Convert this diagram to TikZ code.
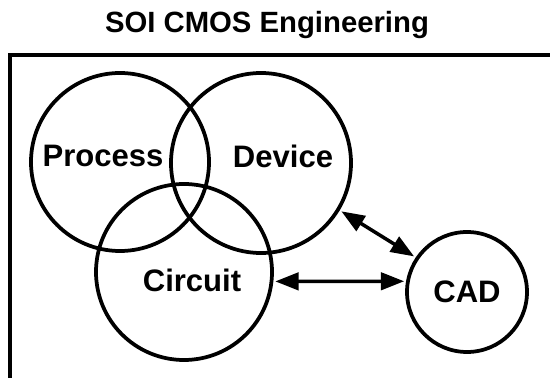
\documentclass[tikz,border=0pt]{standalone}
\usepackage{fontspec}
\setmainfont{Liberation Sans}
\usepackage{tikz}
\usetikzlibrary{arrows.meta}

\begin{document}
\begin{tikzpicture}[
  ring/.style={draw,circle,line width=3.2pt,inner sep=0pt},
  word/.style={inner sep=0pt,font=\fontsize{26.5}{32}\selectfont\bfseries},
  link/.style={line width=3pt,
    {Triangle[length=7mm,width=5.2mm]}-{Triangle[length=7mm,width=5.2mm]},
    shorten <=1.6pt,shorten >=1.6pt}]
        \useasboundingbox (0,0) rectangle (16.5,11.34);
        \node[word,font=\fontsize{25}{30}\selectfont\bfseries] (title) at (8.01,10.59) {SOI CMOS Engineering};
        \draw[line width=2.9pt] (0.3,0) -- (0.3,9.69) -- (16.5,9.69);
        \foreach \n/\x/\y/\d in {%
          proc/3.6/6.48/5.34,
          dev/7.83/6.45/5.40,
          circ/5.52/3.18/5.28,
          cad/14.01/2.58/3.60} {
            \node[ring,minimum size=\d cm] (\n) at (\x,\y) {};
        }
        \foreach \n/\x/\y/\t in {%
          proclabel/3.09/6.66/Process,
          devlabel/8.49/6.66/Device,
          circlabel/5.76/2.94/Circuit,
          cadlabel/14.01/2.60/CAD} {
            \node[word] (\n) at (\x,\y) {\t};
        }
        \draw[link] (dev.-31) -- (cad.146);
        \draw[link] (circ.-6.5) -- (cad.170);
        \end{tikzpicture}
\end{document}
